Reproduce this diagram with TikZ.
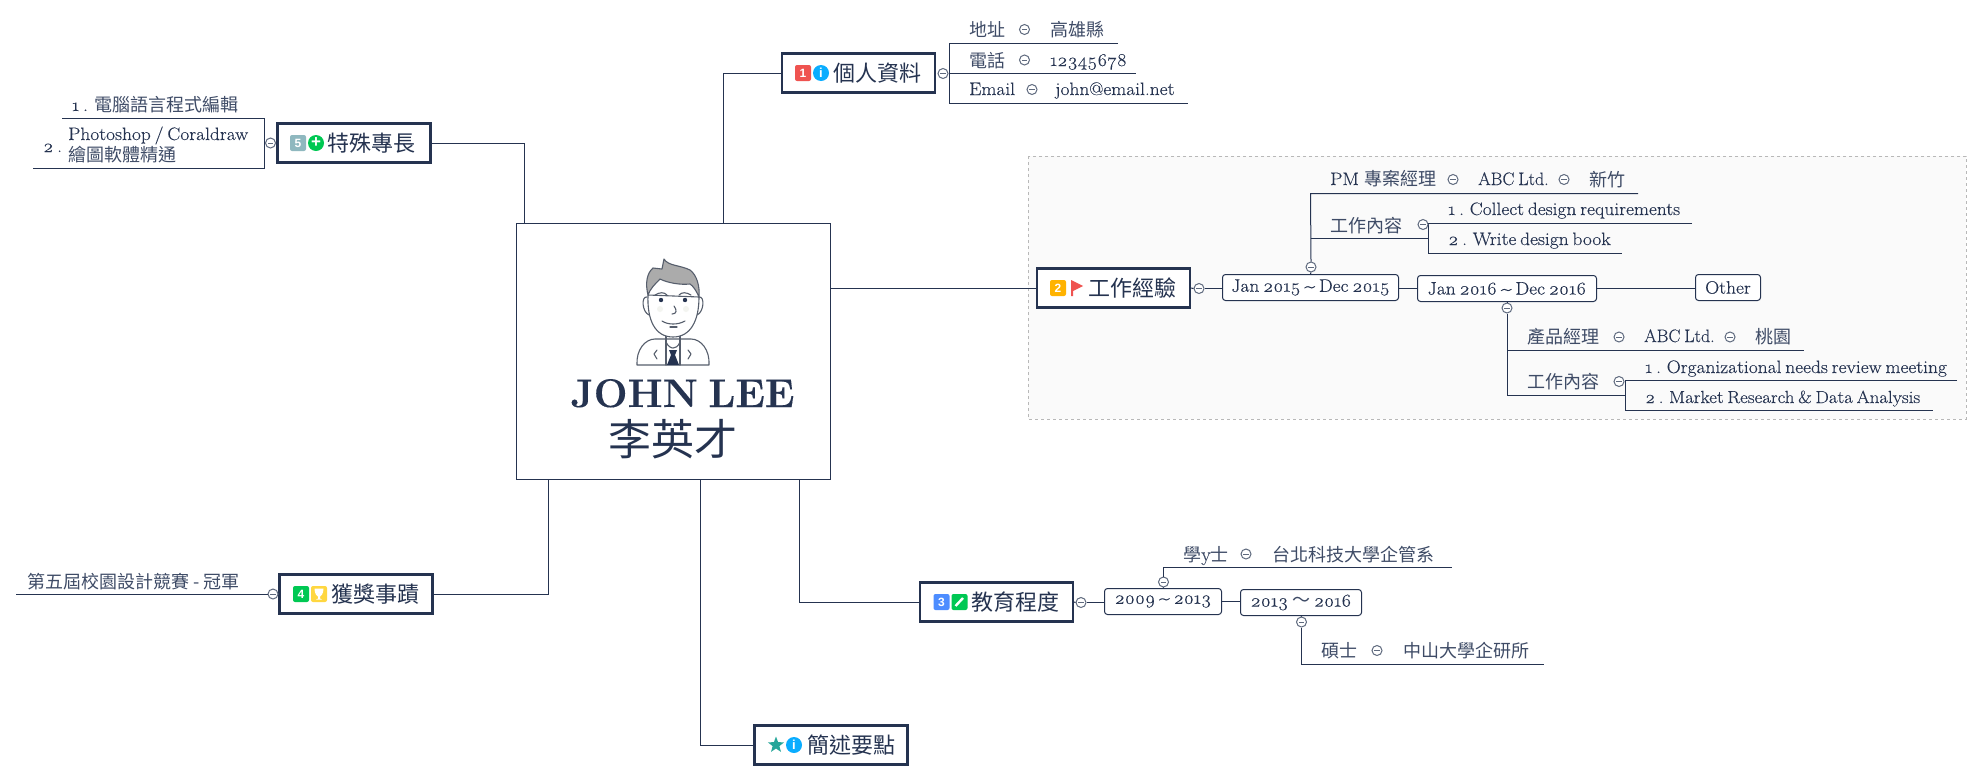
\documentclass[tikz,border=0pt]{standalone}
\usepackage{fontspec}
\usepackage{xcolor}
\setmainfont{Latin Modern Roman}[Numbers=OldStyle,FakeStretch=1.08,WordSpace=.65,FakeBold=.2]
\newfontfamily\namefont{Latin Modern Roman}[WordSpace=.7,FakeBold=.2]
\newfontfamily\cjk{Noto Sans CJK TC}
\newfontfamily\iconfont{Liberation Sans}
\usetikzlibrary{shapes.geometric}
\definecolor{ink}{HTML}{253350}
\definecolor{leafink}{HTML}{3E4B66}
\definecolor{foldline}{HTML}{5F6A7E}
\definecolor{groupline}{HTML}{B8B8B8}
\definecolor{groupfill}{HTML}{FAFAFA}
\definecolor{manline}{HTML}{565E6C}
\definecolor{hair}{HTML}{ABABAB}
\definecolor{cheek}{HTML}{F3F4F0}
\definecolor{infoblue}{HTML}{0AADFF}
\definecolor{plusgreen}{HTML}{00C853}
\definecolor{starteal}{HTML}{26A69A}
\definecolor{flagred}{HTML}{EF5350}
\definecolor{skillgray}{HTML}{8FB8BF}
\definecolor{workorange}{HTML}{FFB300}
\definecolor{edublue}{HTML}{4D8DFF}
\definecolor{cupyellow}{HTML}{FFD740}
\newcommand{\zh}[1]{{\cjk\fontsize{18}{22}\selectfont\color{leafink}#1}}

\tikzset{
    conn/.style={draw=ink, line width=1pt},
    central/.style={draw=ink, line width=1pt, minimum width=314pt, minimum height=256pt},
    topic/.style={draw=ink, line width=2.2pt, fill=white, minimum width=153pt, minimum height=39pt},
    topictext/.style={anchor=base west, inner sep=0pt, text=ink, font=\cjk\fontsize{22}{26}\selectfont},
    leaf/.style={anchor=base west, inner sep=0pt, text=ink, font=\fontsize{18}{22}\selectfont},
    cjkleaf/.style={anchor=base west, inner sep=0pt, text=leafink, font=\cjk\fontsize{18}{22}\selectfont},
    datebox/.style={draw=ink, line width=1pt, rounded corners=3pt, fill=white, inner sep=0pt, text=ink,
        font=\fontsize{18}{22}\selectfont},
    fold/.style={circle, draw=foldline, line width=1pt, fill=white, inner sep=0pt, minimum size=10pt,
        path picture={\draw[foldline, line width=.9pt] ([xshift=2.4pt]path picture bounding box.west) -- ([xshift=-2.4pt]path picture bounding box.east);}},
    badge/.style={rectangle, rounded corners=2pt, inner sep=0pt, minimum size=16pt, text=white,
        font=\iconfont\bfseries\fontsize{12}{12}\selectfont},
    infomark/.style={circle, fill=infoblue, inner sep=0pt, minimum size=16pt, text=white,
        font=\iconfont\bfseries\fontsize{13}{13}\selectfont},
    man/.style={draw=manline, line width=1.1pt, line join=round, line cap=round},
}

\begin{document}
\begin{tikzpicture}[x=1pt, y=-1pt]
    \useasboundingbox (0,0) rectangle (1983,782);

    % Group behind the work topic
    \draw[groupline, dashed, line width=.8pt, fill=groupfill] (1028,156) rectangle (1966,419);

    % Central topic
    \node[central] (center) at (673.5,351.5) {};
    \node[anchor=base, inner sep=0pt, text=ink, font=\namefont\bfseries\fontsize{40}{44}\selectfont] (name) at (682.5,407) {JOHN LEE};
    \node[anchor=base, inner sep=0pt, text=ink, font=\cjk\fontsize{43}{46}\selectfont] (namecjk) at (672.5,455) {李英才};

    % Portrait
    \draw[man, fill=white] (647,297) .. controls (641,296) and (642,312) .. (649,315);
    \draw[man, fill=white] (699,297) .. controls (705,296) and (704,312) .. (697,315);
    \draw[man, fill=white] (637,365) .. controls (636,350) and (645,339) .. (655,339) -- (691,339) .. controls (701,339) and (710,350) .. (709,365) -- cycle;
    \draw[man, fill=white] (666,332) -- (666,365) (680,332) -- (680,365);
    \draw[man, fill=white] (648,295) .. controls (647,320) and (655,337) .. (673,337) .. controls (691,337) and (699,320) .. (699,297) -- cycle;
    \draw[man, fill=hair] (648,295) .. controls (645,283) and (647,273) .. (653,268) -- (662,269) -- (664,259) .. controls (668,266) and (680,265) .. (690,270) .. controls (697,275) and (700,287) .. (699,297) .. controls (696,290) and (693,286) .. (690,284) .. controls (680,285) and (668,283) .. (660,279) .. controls (655,284) and (650,289) .. (648,295) -- cycle;
    \draw[man] (655,295) .. controls (660,292) and (664,292) .. (667,295);
    \draw[man] (679,295) .. controls (682,292) and (686,292) .. (691,295);
    \fill[ink] (661,300) circle (2.2) (685,300) circle (2.2);
    \fill[cheek] (660,309) circle (3) (686,309) circle (3);
    \draw[man] (674,306) .. controls (677,310) and (677,314) .. (672,314);
    \draw[man] (662,321) .. controls (668,325) and (678,325) .. (685,321);
    \draw[man] (670,327) -- (677,327);
    \draw[man] (666,342) .. controls (668,347) and (672,348) .. (673,348) .. controls (675,348) and (678,347) .. (680,342);
    \fill[ink] (669,350) -- (677,350) -- (675,355) -- (679,365) -- (667,365) -- (671,355) -- cycle;
    \draw[man] (657,350) -- (654,354) -- (657,359);
    \draw[man] (688,350) -- (691,354) -- (688,359);

    % Main topics
    \node[topic] (skill) at (354,143) {};
    \node[topic] (info) at (858.5,73) {};
    \node[topic] (work) at (1113.5,288) {};
    \node[topic] (edu) at (996.5,602) {};
    \node[topic] (award) at (356,594) {};
    \node[topic] (note) at (831,745) {};

    % Free ends on the central topic
    \coordinate (skillout) at (524.5,223.5);
    \coordinate (infoout) at (723.5,223.5);
    \coordinate (workout) at (830.5,288);
    \coordinate (eduout) at (799,479.5);
    \coordinate (noteout) at (700,479.5);
    \coordinate (awardout) at (548,479.5);
    \draw[conn] (skillout) |- (skill.east);
    \draw[conn] (infoout) |- (info.west);
    \draw[conn] (workout) -- (work.west);
    \draw[conn] (eduout) |- (edu.west);
    \draw[conn] (noteout) |- (note.west);
    \draw[conn] (awardout) |- (award.east);

    % Skill topic
    \node[badge, fill=skillgray] (skillbadge) at (298,143) {5};
    \fill[plusgreen] (316,143) circle (8);
    \node[inner sep=0pt, text=white, font=\iconfont\bfseries\fontsize{17}{17}\selectfont] (skillplus) at (316,142.5) {+};
    \node[topictext] (skilltext) at (327,151) {特殊專長};
    \node[fold] (skillfold) at (270.5,143) {};
    \coordinate (skilljoin) at (264,143);
    \coordinate (skilltop) at (264,118.5);
    \coordinate (skillbot) at (264,168.5);
    \coordinate (skilltopend) at (62,118.5);
    \coordinate (skillbotend) at (33,168.5);
    \draw[conn] (skillfold.west) -- (skilljoin);
    \draw[conn] (skilltopend) -- (skilltop) -- (skillbot) -- (skillbotend);
    \node[leaf] (skilla) at (72,111) {1 .\hspace{7pt}\zh{電腦語言程式編輯}};
    \node[leaf] (skillnumb) at (43,152) {2 .};
    \node[leaf] (skillbl) at (68,140) {Photoshop / Coraldraw};
    \node[cjkleaf] (skillbc) at (68,161) {繪圖軟體精通};

    % Info topic
    \node[badge, fill=flagred] (infobadge) at (803,73) {1};
    \node[infomark] (infomark) at (821,73) {i};
    \node[topictext] (infotext) at (833,81) {個人資料};
    \node[fold] (infofold) at (943,73.5) {};
    \coordinate (infospine) at (949.5,73.5);
    \coordinate (addrin) at (949.5,43.5);
    \coordinate (addrend) at (1118,43.5);
    \coordinate (telend) at (1136,73.5);
    \coordinate (mailin) at (949.5,103.5);
    \coordinate (mailend) at (1188,103.5);
    \draw[conn] (infofold.east) -- (infospine) -- (telend);
    \draw[conn] (addrend) -- (addrin) -- (mailin) -- (mailend);
    \node[cjkleaf] (addr) at (969,36) {地址};
    \node[fold] (addrfold) at (1024.5,29.5) {};
    \node[cjkleaf] (addrval) at (1050,36) {高雄縣};
    \node[cjkleaf] (tel) at (969,67) {電話};
    \node[fold] (telfold) at (1024.5,60) {};
    \node[leaf] (telval) at (1050,66) {12345678};
    \node[leaf] (mail) at (969,95) {Email};
    \node[fold] (mailfold) at (1032,89.5) {};
    \node[leaf] (mailval) at (1055,95) {john@email.net};

    % Work topic
    \node[badge, fill=workorange] (workbadge) at (1058,288) {2};
    \fill[flagred] (1071,280) -- (1083,286) -- (1073,291) -- (1073,296) -- (1071,296) -- cycle;
    \node[topictext] (worktext) at (1088,296) {工作經驗};
    \node[fold] (workfold) at (1199,288.5) {};
    \node[datebox, minimum width=176pt, minimum height=26pt] (joba) at (1310.5,287.5) {Jan 2015 \textasciitilde{} Dec 2015};
    \node[datebox, minimum width=179pt, minimum height=26pt] (jobb) at (1507,288.5) {Jan 2016 \textasciitilde{} Dec 2016};
    \node[datebox, minimum width=65pt, minimum height=26pt] (other) at (1728,287.5) {Other};
    \draw[conn] (work.east) -- (workfold.west);
    \draw[conn] (workfold.east) -- (workfold.east -| joba.west);
    \draw[conn] (joba.east |- jobb.west) -- (jobb.west);
    \draw[conn] (jobb.east) -- (jobb.east -| other.west);

    % First job
    \node[fold] (jobafold) at (1311,267) {};
    \coordinate (jobatop) at (1310.5,193.5);
    \coordinate (jobatopend) at (1638,193.5);
    \coordinate (jobamid) at (1310.5,238.5);
    \coordinate (jobaduty) at (1428,238.5);
    \coordinate (dutyatop) at (1428,223.5);
    \coordinate (dutyatopend) at (1692,223.5);
    \coordinate (dutyabot) at (1428,253.5);
    \coordinate (dutyabotend) at (1622,253.5);
    \draw[conn] (joba.north) -- (jobafold.south);
    \draw[conn] (jobafold.north) -- (jobatop) -- (jobatopend);
    \draw[conn] (jobamid) -- (jobaduty);
    \draw[conn] (dutyatopend) -- (dutyatop) -- (dutyabot) -- (dutyabotend);
    \node[leaf] (pm) at (1330,185) {PM\hspace{6pt}\zh{專案經理}};
    \node[fold] (pmfold) at (1453,179.5) {};
    \node[leaf, font=\namefont\fontsize{18}{22}\selectfont] (abca) at (1478,185) {ABC Ltd.};
    \node[fold] (abcafold) at (1564,179.5) {};
    \node[cjkleaf] (citya) at (1589,186) {新竹};
    \node[cjkleaf] (dutya) at (1330,232) {工作內容};
    \node[fold] (dutyafold) at (1423,224.5) {};
    \node[leaf] (dutyaa) at (1448,215) {1 . Collect design requirements};
    \node[leaf] (dutyab) at (1448,245) {2 . Write design book};

    % Second job
    \node[fold] (jobbfold) at (1507,308) {};
    \coordinate (jobbtop) at (1507,350.5);
    \coordinate (jobbtopend) at (1804,350.5);
    \coordinate (jobbbot) at (1507,395.5);
    \coordinate (jobbduty) at (1625,395.5);
    \coordinate (dutybtop) at (1625,380.5);
    \coordinate (dutybtopend) at (1957,380.5);
    \coordinate (dutybbot) at (1625,410.5);
    \coordinate (dutybbotend) at (1933,410.5);
    \draw[conn] (jobb.south) -- (jobbfold.north);
    \draw[conn] (jobbfold.south) -- (jobbbot) -- (jobbduty);
    \draw[conn] (jobbtop) -- (jobbtopend);
    \draw[conn] (dutybtopend) -- (dutybtop) -- (dutybbot) -- (dutybbotend);
    \node[cjkleaf] (pmb) at (1527,343) {產品經理};
    \node[fold] (pmbfold) at (1619,337) {};
    \node[leaf, font=\namefont\fontsize{18}{22}\selectfont] (abcb) at (1644,342) {ABC Ltd.};
    \node[fold] (abcbfold) at (1730,337) {};
    \node[cjkleaf] (cityb) at (1755,343) {桃園};
    \node[cjkleaf] (dutyb) at (1527,388) {工作內容};
    \node[fold] (dutybfold) at (1619,381.5) {};
    \node[leaf] (dutyba) at (1645,373) {1 . Organizational needs review meeting};
    \node[leaf, font=\fontsize{17.5}{22}\selectfont] (dutybb) at (1645,403) {2 . Market Research \& Data Analysis};

    % Education topic
    \node[badge, fill=edublue] (edubadge) at (941.5,602) {3};
    \node[badge, fill=plusgreen] (edupen) at (959.5,602) {};
    \draw[white, line width=2.4pt] (955.5,606) -- (963,598);
    \node[topictext] (edutext) at (971,610) {教育程度};
    \node[fold] (edufold) at (1081,602.5) {};
    \node[datebox, minimum width=117pt, minimum height=26pt] (schoola) at (1163,601.5) {2009 \textasciitilde{} 2013};
    \node[datebox, minimum width=121pt, minimum height=26pt] (schoolb) at (1301,602.5) {2013 \zh{～} 2016};
    \draw[conn] (edu.east) -- (edufold.west);
    \draw[conn] (edufold.east) -- (edufold.east -| schoola.west);
    \draw[conn] (schoola.east) -- (schoola.east -| schoolb.west);
    \node[fold] (schoolafold) at (1163.5,582) {};
    \node[fold] (schoolbfold) at (1301.5,622) {};
    \coordinate (bachin) at (1163.5,567.5);
    \coordinate (bachend) at (1452,567.5);
    \coordinate (mastin) at (1301.5,664.5);
    \coordinate (mastend) at (1544,664.5);
    \draw[conn] (schoola.north) -- (schoolafold.south);
    \draw[conn] (schoolafold.north) -- (bachin) -- (bachend);
    \draw[conn] (schoolb.south) -- (schoolbfold.north);
    \draw[conn] (schoolbfold.south) -- (mastin) -- (mastend);
    \node[cjkleaf] (bach) at (1183,561) {學{\namefont\fontsize{20}{22}\selectfont y}士};
    \node[fold] (bachfold) at (1246,554) {};
    \node[cjkleaf] (bachval) at (1272,561) {台北科技大學企管系};
    \node[cjkleaf] (mast) at (1321,657) {碩士};
    \node[fold] (mastfold) at (1377,650.5) {};
    \node[cjkleaf] (mastval) at (1403,657) {中山大學企研所};

    % Award topic
    \node[badge, fill=plusgreen] (awardbadge) at (301,594) {4};
    \node[badge, fill=cupyellow] (awardcup) at (319,594) {};
    \fill[white] (314.5,588.5) -- (323.5,588.5) .. controls (323.5,594) and (321,596) .. (320,596.5) -- (320,598.5) -- (322,599.5) -- (316,599.5) -- (318,598.5) -- (318,596.5) .. controls (317,596) and (314.5,594) .. (314.5,588.5) -- cycle;
    \node[topictext] (awardtext) at (331,602) {獲獎事蹟};
    \node[fold] (awardfold) at (273,594) {};
    \coordinate (awardend) at (16,594);
    \draw[conn] (awardfold.west) -- (awardend);
    \node[cjkleaf] (prize) at (27,588) {第五屆校園設計競賽 - 冠軍};

    % Note topic
    \node[star, star points=5, star point ratio=2.4, fill=starteal, inner sep=0pt, minimum size=17pt] (notestar) at (776,745) {};
    \node[infomark] (notemark) at (794,745) {i};
    \node[topictext] (notetext) at (807,753) {簡述要點};
\end{tikzpicture}
\end{document}
